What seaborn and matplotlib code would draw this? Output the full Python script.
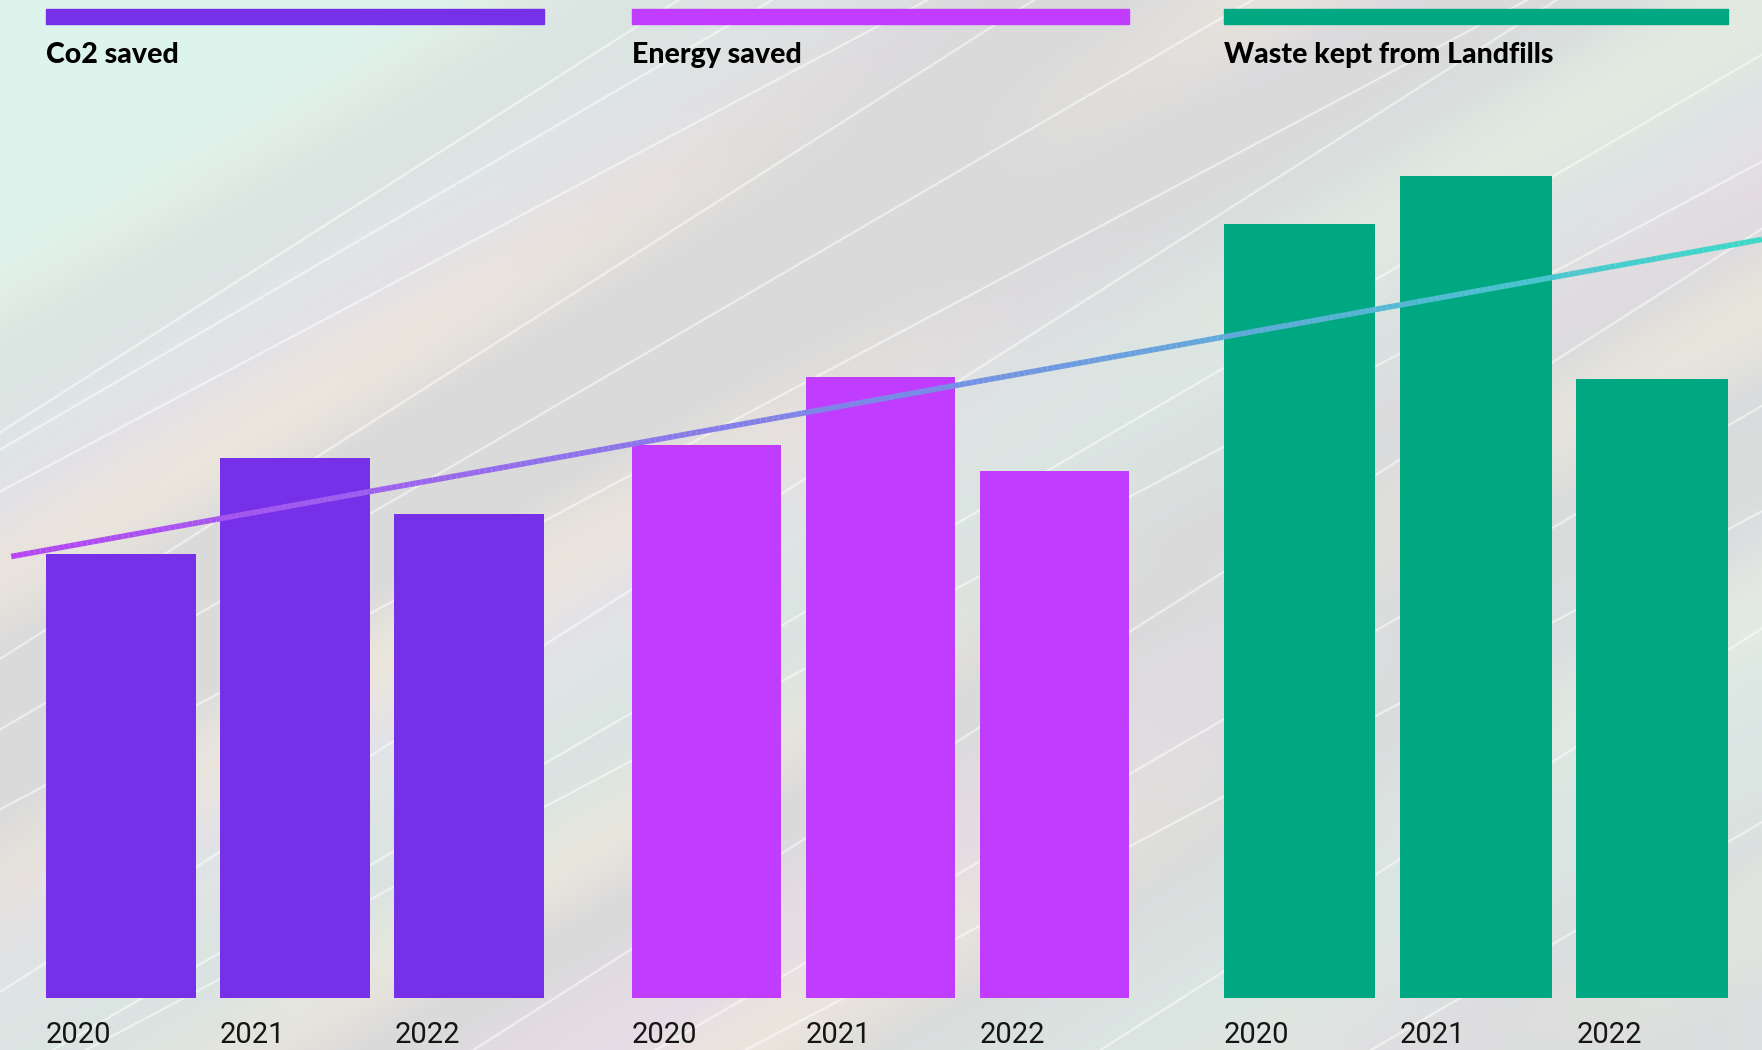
import numpy as np
import seaborn as sns
import matplotlib.pyplot as plt
from matplotlib.patches import Rectangle
from matplotlib.collections import LineCollection
from matplotlib.colors import LinearSegmentedColormap

# data (bar heights, arbitrary units)
years = ['2020', '2021', '2022']
titles = ['Co2 saved', 'Energy saved', 'Waste kept from Landfills']
co2_saved = [395, 481, 431]
energy_saved = [492, 553, 469]
waste_kept = [689, 731, 551]
trend_values = [393, 675]
bar_colors = ['#7630e8', '#c03cff', '#00a882']
trend_colors = ['#b446f4', '#7a8ae6', '#3cd9c8']

sns.set_theme(style='white')
plt.rcParams['font.family'] = ['Lato', 'DejaVu Sans']

W, H = 1762, 1050
fig = plt.figure(figsize=(W / 100, H / 100), dpi=100)

# ---- pastel streaked background ----
bg = fig.add_axes([0, 0, 1, 1], zorder=0)
yy, xx = np.mgrid[0:H, 0:W].astype(float)
X = xx * 1568 / W
Y = yy * 934 / H
u = X * 0.503 + Y * 0.864
v = X * 0.864 - Y * 0.503

grey = np.array([0.855, 0.855, 0.86])
pink = np.array([0.925, 0.87, 0.915])
yellow = np.array([0.95, 0.925, 0.86])
mint = np.array([0.86, 0.945, 0.915])

img = np.ones((H, W, 3)) * grey
wp = np.clip(np.sin(u / 55 + 0.8) * np.sin(v / 500 + 1.5), 0, 1) * 0.7
wy = np.clip(np.sin(u / 37 + 2.1) * np.cos(v / 420), 0, 1) * 0.6
wm = np.clip(np.sin(u / 80 + 4.0), 0, 1) * 0.45
for col, wgt in [(pink, wp), (yellow, wy), (mint, wm)]:
    img = img * (1 - wgt[..., None]) + col * wgt[..., None]
corner = 1 / (1 + np.exp(-(229 - u) / 18))
img = img * (1 - corner[..., None]) + np.array([0.87, 0.96, 0.93]) * corner[..., None]
br = 1 / (1 + np.exp(-(v - 900) / 150)) * 1 / (1 + np.exp(-(Y - 550) / 120))
img = img * (1 - 0.5 * br[..., None]) + mint * 0.5 * br[..., None]

streaks = [300, 345, 410, 470, 560, 660, 720, 830, 885,
           990, 1100, 1160, 1290, 1420]
for k, uk in enumerate(streaks):
    tilt = uk + (v - 600) * 0.04 * (k % 3 - 1)
    line = np.exp(-((u - tilt) / 1.0) ** 2) * 0.6
    img = img * (1 - line[..., None]) + line[..., None]
bg.imshow(np.clip(img, 0, 1), aspect='auto', extent=[0, 1, 0, 1])
bg.set_xlim(0, 1)
bg.set_ylim(0, 1)
bg.axis('off')

# ---- bar groups ----
bottom, height = 46 / 934, 888 / 934
positions = [(30 / 1568, 465 / 1568), (551.5 / 1568, 464 / 1568), (1078 / 1568, 470.5 / 1568)]
series = [co2_saved, energy_saved, waste_kept]

for (left, width), vals, title, color in zip(positions, series, titles, bar_colors):
    ax = fig.add_axes([left, bottom, width, height], zorder=1)
    ax.patch.set_alpha(0)
    sns.barplot(x=years, y=vals, color=color, saturation=1, width=0.86,
                linewidth=0, edgecolor='none', ax=ax)
    ax.set_xlim(-0.5, 2.5)
    ax.set_ylim(0, 888)
    ax.axis('off')
    ax.add_patch(Rectangle((-0.43, 867), 2.86, 13, color=color, clip_on=False))
    ax.text(-0.43, 832, title, fontsize=20.5, fontweight='black', color='black',
            ha='left', va='baseline')
    for i, yr in enumerate(years):
        ax.text(i - 0.43, -45, yr, fontsize=21, fontweight='normal', color='#151515',
                ha='left', va='bottom', family=['Roboto', 'DejaVu Sans'], clip_on=False)

# ---- gradient trend line across the groups ----
tax = fig.add_axes([0, bottom, 1, height], zorder=2)
tax.patch.set_alpha(0)
tx = np.linspace(10 / 1568, 1.0, 300)
ty = np.interp(tx, [10 / 1568, 1.0], trend_values)
pts = np.column_stack([tx, ty]).reshape(-1, 1, 2)
segs = np.concatenate([pts[:-1], pts[1:]], axis=1)
cmap = LinearSegmentedColormap.from_list('trend', trend_colors)
lc = LineCollection(segs, cmap=cmap, linewidth=4, capstyle='butt')
lc.set_array(np.linspace(0, 1, len(segs)))
tax.add_collection(lc)
tax.set_xlim(0, 1)
tax.set_ylim(0, 888)
tax.axis('off')

fig.savefig('out.png', dpi=100)
